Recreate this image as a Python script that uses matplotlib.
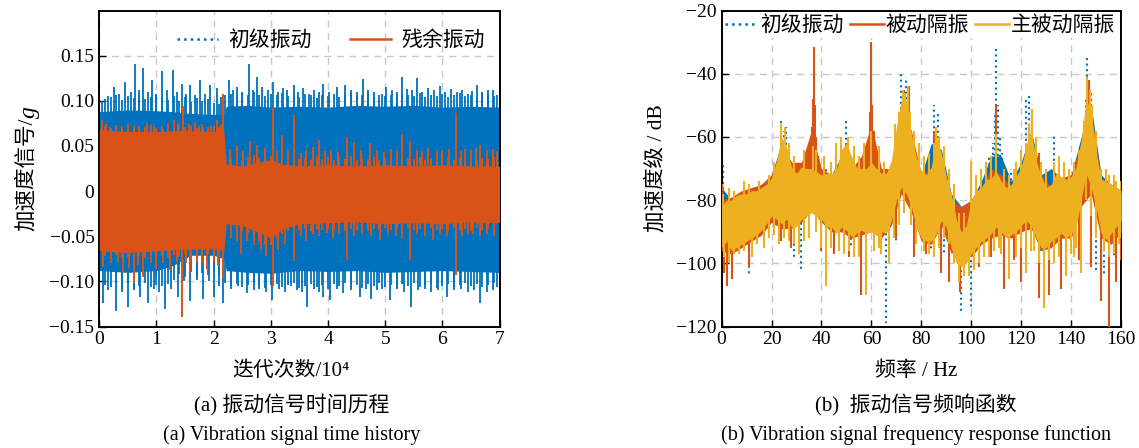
import numpy as np
import matplotlib
matplotlib.use("Agg")
import matplotlib.pyplot as plt

plt.rcParams['font.family'] = ['Liberation Serif', 'Noto Sans CJK SC']

BLUE = '#0072BD'
ORANGE = '#D95319'
YELLOW = '#EDB120'

# ---------------- (a) time history, x in 10^4 iterations ----------------
blue_core_t = [0, 0.5, 1.0, 1.3, 1.6, 2.0, 2.18, 2.22, 2.6, 3.0, 3.5, 4.0, 4.5, 5.0, 5.5, 6.0, 6.5, 7.0]
blue_core_hi = [0.088, 0.090, 0.089, 0.088, 0.086, 0.085, 0.085, 0.094, 0.095, 0.093, 0.094, 0.093, 0.095, 0.094, 0.095, 0.093, 0.094, 0.093]
blue_core_lo = [-0.088, -0.090, -0.088, -0.082, -0.071, -0.071, -0.075, -0.088, -0.090, -0.091, -0.088, -0.089, -0.088, -0.090, -0.089, -0.088, -0.089, -0.090]

orange_core_t = [0, 0.5, 1.0, 1.5, 2.0, 2.18, 2.22, 2.5, 2.8, 3.0, 3.2, 3.5, 4.0, 4.5, 5.0, 5.5, 6.0, 6.5, 7.0]
orange_core_hi = [0.068, 0.066, 0.066, 0.067, 0.066, 0.066, 0.030, 0.028, 0.032, 0.035, 0.030, 0.028, 0.029, 0.028, 0.029, 0.028, 0.029, 0.028, 0.028]
orange_core_lo = [-0.066, -0.068, -0.066, -0.064, -0.064, -0.066, -0.036, -0.038, -0.046, -0.052, -0.042, -0.036, -0.035, -0.034, -0.036, -0.035, -0.036, -0.034, -0.035]

# tallest peaks
blue_up_t = [0.05, 0.15, 0.26, 0.35, 0.45, 0.55, 0.62, 0.70, 0.77, 0.85, 0.92, 1.00, 1.09, 1.18, 1.28, 1.36,
             1.44, 1.52, 1.59, 1.68, 1.76, 1.85, 1.94, 2.05, 2.12, 2.26, 2.33, 2.40, 2.50, 2.62, 2.68, 2.75,
             2.85, 2.95, 3.04, 3.12, 3.22, 3.28, 3.40, 3.48, 3.57, 3.66, 3.75, 3.84, 3.92, 4.02, 4.15, 4.30,
             4.40, 4.50, 4.62, 4.70, 4.80, 4.94, 5.02, 5.12, 5.20, 5.29, 5.38, 5.46, 5.55, 5.65, 5.75, 5.85,
             5.95, 6.05, 6.15, 6.25, 6.35, 6.45, 6.52, 6.60, 6.70, 6.80, 6.89, 6.96]
blue_up_v = [0.100, 0.105, 0.115, 0.108, 0.121, 0.110, 0.141, 0.112, 0.136, 0.110, 0.123, 0.108, 0.133, 0.112, 0.134, 0.110,
             0.119, 0.108, 0.117, 0.106, 0.123, 0.108, 0.117, 0.114, 0.104, 0.123, 0.112, 0.115, 0.110, 0.141, 0.112, 0.126,
             0.115, 0.112, 0.121, 0.110, 0.114, 0.112, 0.117, 0.110, 0.114, 0.108, 0.112, 0.110, 0.119, 0.110, 0.115, 0.117,
             0.112, 0.110, 0.124, 0.112, 0.110, 0.108, 0.115, 0.112, 0.110, 0.126, 0.113, 0.112, 0.125, 0.110, 0.114, 0.112,
             0.116, 0.110, 0.113, 0.110, 0.112, 0.108, 0.111, 0.117, 0.110, 0.112, 0.112, 0.106]
blue_dn_t = [0.07, 0.15, 0.30, 0.40, 0.51, 0.60, 0.71, 0.86, 0.95, 1.05, 1.15, 1.25, 1.38, 1.48, 1.59, 1.70,
             1.82, 1.92, 2.01, 2.10, 2.17, 2.30, 2.42, 2.58, 2.70, 2.80, 2.92, 3.02, 3.15, 3.25, 3.35, 3.45,
             3.55, 3.63, 3.75, 3.85, 3.92, 4.03, 4.15, 4.27, 4.40, 4.56, 4.66, 4.76, 4.85, 4.95, 5.09, 5.20,
             5.32, 5.45, 5.58, 5.70, 5.80, 5.92, 6.08, 6.20, 6.32, 6.45, 6.56, 6.66, 6.78, 6.88, 6.95]
blue_dn_v = [-0.124, -0.110, -0.133, -0.112, -0.128, -0.110, -0.117, -0.124, -0.108, -0.112, -0.130, -0.108, -0.117, -0.100, -0.122, -0.098,
             -0.119, -0.100, -0.117, -0.105, -0.124, -0.108, -0.105, -0.113, -0.110, -0.108, -0.112, -0.121, -0.108, -0.112, -0.105, -0.110,
             -0.112, -0.128, -0.108, -0.112, -0.117, -0.120, -0.108, -0.113, -0.110, -0.117, -0.108, -0.119, -0.110, -0.108, -0.120, -0.108,
             -0.112, -0.128, -0.110, -0.108, -0.112, -0.110, -0.117, -0.110, -0.108, -0.112, -0.110, -0.124, -0.112, -0.110, -0.106]

orange_up_t = [0.04, 0.12, 0.19, 0.30, 0.40, 0.50, 0.60, 0.70, 0.83, 0.95, 1.12, 1.20, 1.30, 1.38, 1.46, 1.56,
               1.67, 1.75, 1.82, 1.95, 2.05, 2.12, 2.17, 2.29, 2.40, 2.52, 2.64, 2.75, 2.90, 3.03, 3.10, 3.19,
               3.30, 3.41, 3.52, 3.62, 3.74, 3.85, 3.95, 4.05, 4.18, 4.33, 4.45, 4.58, 4.73, 4.85, 4.98, 5.10,
               5.20, 5.29, 5.43, 5.55, 5.65, 5.75, 5.90, 6.00, 6.12, 6.23, 6.32, 6.40, 6.50, 6.58, 6.66, 6.78,
               6.89, 6.95]
orange_up_v = [0.079, 0.074, 0.071, 0.073, 0.072, 0.074, 0.072, 0.072, 0.075, 0.072, 0.069, 0.075, 0.079, 0.074, 0.094, 0.074,
               0.077, 0.072, 0.071, 0.072, 0.079, 0.073, 0.108, 0.047, 0.051, 0.044, 0.055, 0.051, 0.048, 0.092, 0.045, 0.062,
               0.045, 0.084, 0.042, 0.045, 0.049, 0.057, 0.044, 0.046, 0.043, 0.060, 0.054, 0.046, 0.053, 0.045, 0.043, 0.047,
               0.045, 0.063, 0.055, 0.046, 0.044, 0.048, 0.046, 0.045, 0.047, 0.087, 0.044, 0.047, 0.045, 0.048, 0.051, 0.045,
               0.047, 0.044]
orange_dn_t = [0.07, 0.20, 0.32, 0.42, 0.52, 0.60, 0.68, 0.77, 0.90, 1.00, 1.12, 1.24, 1.35, 1.44, 1.52, 1.59,
               1.70, 1.80, 1.88, 2.00, 2.08, 2.16, 2.30, 2.40, 2.47, 2.58, 2.70, 2.82, 2.92, 3.03, 3.12, 3.25,
               3.41, 3.52, 3.62, 3.74, 3.85, 3.98, 4.09, 4.20, 4.33, 4.45, 4.60, 4.75, 4.91, 5.05, 5.18, 5.30,
               5.43, 5.55, 5.70, 5.84, 5.95, 6.08, 6.23, 6.35, 6.45, 6.54, 6.65, 6.78, 6.90]
orange_dn_v = [-0.084, -0.080, -0.078, -0.091, -0.085, -0.102, -0.082, -0.095, -0.080, -0.086, -0.080, -0.087, -0.078, -0.139, -0.080, -0.091,
               -0.078, -0.080, -0.086, -0.078, -0.082, -0.096, -0.052, -0.055, -0.070, -0.055, -0.060, -0.065, -0.072, -0.105, -0.065, -0.058,
               -0.077, -0.050, -0.055, -0.047, -0.050, -0.046, -0.052, -0.048, -0.076, -0.050, -0.048, -0.050, -0.054, -0.048, -0.050, -0.052,
               -0.076, -0.048, -0.050, -0.054, -0.048, -0.050, -0.093, -0.050, -0.048, -0.047, -0.050, -0.048, -0.050]

# smaller excursions, every 0.1 x 10^4 from 0.1 to 6.9
minor_t = [round(0.1 * k, 1) for k in range(1, 70)]
blue_up2_v = [0.102, 0.104, 0.106, 0.101, 0.105, 0.103, 0.107, 0.102, 0.104, 0.106,
              0.103, 0.101, 0.105, 0.100, 0.104, 0.099, 0.103, 0.100, 0.102, 0.098,
              0.097, 0.106, 0.108, 0.105, 0.109, 0.106, 0.110, 0.107, 0.105, 0.108,
              0.106, 0.109, 0.105, 0.107, 0.104, 0.108, 0.106, 0.103, 0.107, 0.105,
              0.108, 0.104, 0.106, 0.109, 0.105, 0.107, 0.110, 0.104, 0.106, 0.105,
              0.107, 0.104, 0.108, 0.106, 0.105, 0.109, 0.104, 0.107, 0.105, 0.108,
              0.104, 0.106, 0.109, 0.105, 0.107, 0.104, 0.108, 0.106, 0.105]
blue_dn2_v = [-0.104, -0.106, -0.102, -0.108, -0.103, -0.107, -0.105, -0.102, -0.106, -0.104,
              -0.105, -0.103, -0.098, -0.092, -0.095, -0.090, -0.094, -0.091, -0.093, -0.090,
              -0.094, -0.102, -0.105, -0.103, -0.106, -0.104, -0.102, -0.105, -0.107, -0.104,
              -0.103, -0.106, -0.104, -0.102, -0.107, -0.105, -0.103, -0.106, -0.104, -0.108,
              -0.103, -0.105, -0.102, -0.106, -0.104, -0.107, -0.103, -0.105, -0.102, -0.106,
              -0.104, -0.107, -0.103, -0.105, -0.102, -0.106, -0.104, -0.103, -0.107, -0.105,
              -0.103, -0.106, -0.104, -0.102, -0.105, -0.103, -0.106, -0.104, -0.102]
orange_up2_v = [0.072, 0.070, 0.073, 0.071, 0.074, 0.070, 0.072, 0.071, 0.073, 0.070,
                0.072, 0.074, 0.070, 0.073, 0.071, 0.072, 0.070, 0.074, 0.071, 0.072,
                0.071, 0.040, 0.036, 0.039, 0.035, 0.038, 0.040, 0.037, 0.041, 0.039,
                0.036, 0.038, 0.035, 0.039, 0.036, 0.037, 0.035, 0.039, 0.036, 0.038,
                0.035, 0.038, 0.036, 0.039, 0.035, 0.037, 0.036, 0.038, 0.035, 0.037,
                0.036, 0.039, 0.035, 0.037, 0.036, 0.038, 0.035, 0.037, 0.039, 0.036,
                0.038, 0.035, 0.037, 0.036, 0.039, 0.035, 0.037, 0.036, 0.038]
orange_dn2_v = [-0.072, -0.075, -0.071, -0.074, -0.073, -0.076, -0.072, -0.074, -0.071, -0.075,
                -0.072, -0.074, -0.071, -0.073, -0.070, -0.074, -0.071, -0.073, -0.070, -0.072,
                -0.073, -0.045, -0.043, -0.046, -0.044, -0.047, -0.050, -0.055, -0.058, -0.060,
                -0.052, -0.048, -0.044, -0.042, -0.043, -0.041, -0.044, -0.042, -0.043, -0.041,
                -0.043, -0.041, -0.044, -0.042, -0.043, -0.041, -0.044, -0.042, -0.043, -0.041,
                -0.043, -0.042, -0.044, -0.041, -0.043, -0.042, -0.044, -0.041, -0.043, -0.042,
                -0.044, -0.041, -0.043, -0.042, -0.044, -0.041, -0.043, -0.042, -0.041]

a_yticks = [-0.15, -0.10, -0.05, 0, 0.05, 0.10, 0.15]
a_ylabels = ['\u22120.15', '\u22120.10', '\u22120.05', '0', '0.05', '0.10', '0.15']

# ---------------- (b) frequency response, dB ----------------
f2 = np.arange(0, 161, 2)
yellow_hi = [-82, -80, -80, -78.5, -78, -78, -77, -77, -76, -75, -73, -67.5, -60, -63, -69.5, -71.5, -69.5, -70, -70, -71,
             -72, -71.5, -71.5, -70.5, -64, -62, -66, -69.5, -70, -70, -68, -70, -71.5, -71.5, -67.5, -57, -48, -48.5,
             -59, -66.5, -70.5, -72, -69.5, -60, -65, -72.5, -78, -86, -90, -88, -80, -77, -76, -73.5, -73, -71, -74,
             -76, -75, -72.5, -69.5, -63, -58, -67.5, -72.5, -76, -75, -71.5, -72.5, -73.5, -72.5, -69.5, -61, -48, -52,
             -65, -73.5, -74, -75, -76, -77]
yellow_lo = [-95, -93, -96, -95, -94, -93, -92, -91, -89.5, -87.5, -85, -86, -87.5, -86, -88.5, -88.5, -86, -85, -84, -85,
             -86, -88.5, -88.5, -90.5, -88.5, -89.5, -91.5, -90.5, -89.5, -90.5, -90, -91, -90, -90.5, -86.5, -80, -76, -78,
             -82, -88.5, -92, -93, -93, -90.5, -86.5, -88.5, -95, -100, -101, -100, -97, -95, -93, -92, -90.5, -88.5, -90,
             -92, -91, -90, -88, -86.5, -88, -92, -95, -95, -93, -92, -90.5, -92, -90.5, -88.5, -80, -71.5, -76,
             -82, -90.5, -92.5, -90.5, -88.5, -86.5]

f4 = np.arange(0, 161, 4)
blue_hi = [-76, -80, -78, -77, -75, -72, -62, -68, -70, -66, -71, -72, -66, -68, -70, -66, -72, -70, -50, -60, -72,
           -62, -64, -78, -82, -80, -74, -66, -66, -74, -68, -58, -72, -70, -73, -72, -60, -50, -72, -75, -77]
blue_lo = [-94, -96, -94, -92, -90, -86, -88, -88, -87, -83, -86, -89, -89, -91, -90, -89, -91, -87, -77, -82, -92,
           -92, -87, -96, -101, -97, -93, -86, -88, -91, -88, -87, -94, -93, -91, -91, -80, -75, -90, -91, -87]
orange_hi = [-80, -79, -77, -76, -75, -72, -64, -68, -68, -58, -70, -72, -67, -70, -66, -56, -70, -70, -50, -58, -72,
             -70, -66, -80, -82, -80, -76, -70, -72, -76, -70, -60, -72, -76, -73, -72, -62, -52, -73, -76, -78]
orange_lo = [-96, -97, -95, -93, -91, -87, -89, -89, -87, -83, -87, -90, -90, -92, -91, -90, -92, -88, -78, -84, -93,
             -94, -88, -97, -93, -98, -94, -92, -91, -92, -90, -89, -96, -95, -92, -92, -82, -78, -92, -94, -90]

spec_yellow_up_f = [0.5, 3, 5, 9, 11, 15, 19, 21, 24, 25.5, 27, 29, 33, 36.5, 38, 41, 44, 46, 48, 50.5, 53, 55, 57, 60,
                    63, 65, 69.5, 71, 72.5, 73.5, 74.5, 75.5, 77, 79, 81, 83, 85, 86, 87, 89, 91, 93, 95, 97, 100,
                    102, 104, 106, 108, 110, 113, 115, 117, 118, 120, 122, 123, 124.5, 126, 128, 130, 133, 135, 137,
                    139, 141, 143, 145, 146.5, 147.5, 148.5, 150, 152, 154, 155, 157, 158, 160]
spec_yellow_up_v = [-78, -76, -77, -74, -75, -74, -72, -68, -56, -57, -62, -66, -64, -63, -64, -66, -68, -62, -60, -60,
                    -63, -66, -62, -58, -63, -68, -56, -52, -45, -46, -44, -52, -58, -62, -66, -65, -62, -57, -60, -63,
                    -70, -75, -84, -84, -67.5, -72, -70, -68, -66, -59, -70, -72, -70, -68, -64, -62, -56, -51, -60,
                    -68, -70, -68, -66, -68, -70, -68, -64, -55, -41, -45, -50, -58, -70, -70, -72, -72, -74, -74]
spec_yellow_dn_f = [1, 3, 5, 7, 9, 12, 14, 17, 19, 21, 23, 25, 27, 29, 31, 33, 35, 38, 40, 42, 44, 47, 49, 51, 53, 55,
                    58, 61, 63, 64, 67, 69, 71, 73, 76, 78, 81, 83, 85, 87, 89, 91, 93, 95, 97, 99, 101, 103, 105,
                    107, 109, 111, 112, 115, 118, 120, 122, 124, 125, 127, 129, 131, 133, 135, 138, 140, 141, 142,
                    144, 146, 148, 150, 153, 155, 157, 159, 160]
spec_yellow_dn_v = [-98, -100, -97, -97, -96, -98, -94, -95, -92, -91, -94, -92, -93, -94, -97, -93, -92, -90, -95, -107,
                    -95, -96, -97, -96, -98, -98, -110, -96, -95, -97, -100, -92, -88, -84, -88, -94, -96, -97, -98,
                    -95, -92, -94, -100, -106, -104, -104, -102, -100, -98, -98, -96, -95, -97, -105, -98, -95, -103,
                    -96, -96, -100, -114, -99, -100, -98, -104, -97, -98, -95, -103, -80, -85, -92, -96, -98, -97,
                    -94, -92]

spec_orange_up_f = [0.3, 22, 35.5, 36.2, 36.7, 37, 37.4, 38, 38.7, 50, 57.5, 58.3, 59, 59.6, 60, 60.4, 61, 62, 63, 73,
                    75, 85, 110, 123, 127, 147, 149]
spec_orange_up_v = [-75, -70, -63, -57, -48, -31.5, -50, -60, -66, -62, -68, -64, -60, -52, -30, -50, -58, -63, -68,
                    -45, -44, -58, -50, -56, -65, -42, -60]
spec_orange_dn_f = [1, 2, 4, 11, 24, 28, 40, 45, 51, 56, 64, 70, 77, 82, 88, 91, 95.5, 100, 103, 108, 113, 117, 120, 127,
                    131, 136, 143, 148, 152, 155, 158, 160]
spec_orange_dn_v = [-103, -107, -105, -101, -93, -95, -96, -97, -98, -110, -96, -92, -98, -97, -103, -106, -109, -98, -101,
                    -98, -108, -99, -106, -111, -110, -108, -99, -101, -112, -120, -106, -99]

spec_blue_up_f = [0.5, 7, 12, 17, 24, 25, 26, 36.5, 42, 50, 55, 68, 72, 73, 74, 85, 86.5, 106, 107, 108.5, 109.5, 110,
                  110.5, 111.5, 112.5, 113.5, 116, 120, 122, 123, 124.5, 133, 146, 146.5, 147, 148, 148.5, 159]
spec_blue_up_v = [-68, -78, -80, -76, -55, -58, -57, -68, -70, -55, -68, -68, -40, -46, -41, -50, -52, -70, -66, -62,
                  -52, -32, -50, -60, -65, -70, -70, -66, -48, -46, -53, -59, -48, -34, -44, -45, -52, -77]
spec_blue_dn_f = [11, 29, 32, 52, 66, 70, 84, 89, 96, 100, 105, 128, 138, 141, 150, 153, 157]
spec_blue_dn_v = [-104, -98, -102, -95, -119, -94, -96, -97, -115, -114, -95, -96, -102, -98, -102, -104, -98]

b_yticks = [-120, -100, -80, -60, -40, -20]
b_ylabels = ['\u2212120', '\u2212100', '\u221280', '\u221260', '\u221240', '\u221220']

cn = ['Noto Sans CJK SC']

fig = plt.figure(figsize=(11.39, 4.48), dpi=100)
ax1 = fig.add_axes([0.0872, 0.271, 0.3514, 0.7055])
ax2 = fig.add_axes([0.6335, 0.271, 0.3508, 0.7055])

# --- panel a
ax1.fill_between(blue_core_t, blue_core_lo, blue_core_hi, color=BLUE, lw=0, zorder=2)
for tt, vv in ((blue_up_t, blue_up_v), (blue_dn_t, blue_dn_v), (minor_t, blue_up2_v), (minor_t, blue_dn2_v)):
    ax1.vlines(tt, 0, vv, colors=BLUE, lw=1.3, zorder=2)
ax1.fill_between(orange_core_t, orange_core_lo, orange_core_hi, color=ORANGE, lw=0, zorder=3)
for tt, vv in ((orange_up_t, orange_up_v), (orange_dn_t, orange_dn_v), (minor_t, orange_up2_v), (minor_t, orange_dn2_v)):
    ax1.vlines(tt, 0, vv, colors=ORANGE, lw=1.4, zorder=3)
ax1.plot([], [], color=BLUE, ls=':', lw=1.8, label='初级振动')
ax1.plot([], [], color=ORANGE, ls='-', lw=1.8, label='残余振动')

ax1.set_xlim(0, 7)
ax1.set_ylim(-0.15, 0.2)
ax1.set_xticks(range(8))
ax1.set_yticks(a_yticks, a_ylabels)
ax1.legend(loc='center right', bbox_to_anchor=(0.985, 0.907), ncol=2, frameon=False,
           handlelength=2.0, handletextpad=0.5, columnspacing=1.8, borderaxespad=0,
           prop={'family': cn, 'size': 15})

# --- panel b
def spec(ax, fg, hi, lo, uf, uv, df, dv, color, ls, z):
    hi = np.array(hi, float)
    lo = np.array(lo, float)
    mid = (hi + lo) / 2
    ax.fill_between(fg, lo, hi, color=color, lw=0, zorder=z)
    ax.vlines(uf, np.interp(uf, fg, mid), uv, colors=color, linestyles=ls, lw=1.5, zorder=z)
    ax.vlines(df, np.interp(df, fg, mid), dv, colors=color, linestyles=ls, lw=1.5, zorder=z)

spec(ax2, f4, blue_hi, blue_lo, spec_blue_up_f, spec_blue_up_v, spec_blue_dn_f, spec_blue_dn_v, BLUE, ':', 2)
spec(ax2, f4, orange_hi, orange_lo, spec_orange_up_f, spec_orange_up_v, spec_orange_dn_f, spec_orange_dn_v, ORANGE, '-', 3)
spec(ax2, f2, yellow_hi, yellow_lo, spec_yellow_up_f, spec_yellow_up_v, spec_yellow_dn_f, spec_yellow_dn_v, YELLOW, '-', 4)
ax2.plot([], [], color=BLUE, ls=':', lw=1.8, label='初级振动')
ax2.plot([], [], color=ORANGE, ls='-', lw=1.8, label='被动隔振')
ax2.plot([], [], color=YELLOW, ls='-', lw=1.8, label='主被动隔振')

ax2.set_xlim(0, 160)
ax2.set_ylim(-120, -20)
ax2.set_xticks(range(0, 161, 20))
ax2.set_yticks(b_yticks, b_ylabels)
leg = ax2.legend(loc='center', bbox_to_anchor=(0.497, 0.954), ncol=3, frameon=True,
                 handlelength=1.6, handletextpad=0.1, columnspacing=0.3, borderaxespad=0,
                 borderpad=0.1, prop={'family': cn, 'size': 15})
leg.get_frame().set_edgecolor('none')
leg.get_frame().set_facecolor('white')
leg.get_frame().set_alpha(1)

for ax in (ax1, ax2):
    ax.set_axisbelow(True)
    ax.grid(True, ls=(0, (5, 4)), color='#c8c8c8', lw=1)
    ax.tick_params(direction='in', length=5, width=1, labelsize=14, top=False, right=False)
    for s in ax.spines.values():
        s.set_linewidth(1.4)

# left y label: Chinese part plus italic g, stacked along the rotated baseline
W, H = fig.get_size_inches() * fig.dpi
renderer = fig.canvas.get_renderer()
t1 = fig.text(0.0237, 0.5, '加速度信号/', rotation=90, ha='center', va='bottom', fontsize=15.5)
t2 = fig.text(0.0237, 0.5, 'g', rotation=90, ha='center', va='bottom', fontsize=17,
              family='Liberation Serif', style='italic')
h1 = t1.get_window_extent(renderer).height
h2 = t2.get_window_extent(renderer).height
y0 = 0.624 - (h1 + h2) / 2 / H
t1.set_y(y0)
t2.set_position((0.0255, y0 + h1 / H))

fig.text(0.576, 0.624, '加速度级 / dB', rotation=90, ha='center', va='center', fontsize=15.5)

fig.text(0.2557, 0.172, '迭代次数/10\u2074', ha='center', va='center', fontsize=15)
fig.text(0.2557, 0.094, '(a) 振动信号时间历程', ha='center', va='center', fontsize=15)
fig.text(0.2557, 0.029, '(a) Vibration signal time history', ha='center', va='center', fontsize=14.5)

fig.text(0.804, 0.172, '频率 / Hz', ha='center', va='center', fontsize=15)
fig.text(0.804, 0.094, '(b)  振动信号频响函数', ha='center', va='center', fontsize=15)
fig.text(0.804, 0.029, '(b) Vibration signal frequency response function', ha='center', va='center', fontsize=14.5)

fig.savefig('out.png', dpi=100)
